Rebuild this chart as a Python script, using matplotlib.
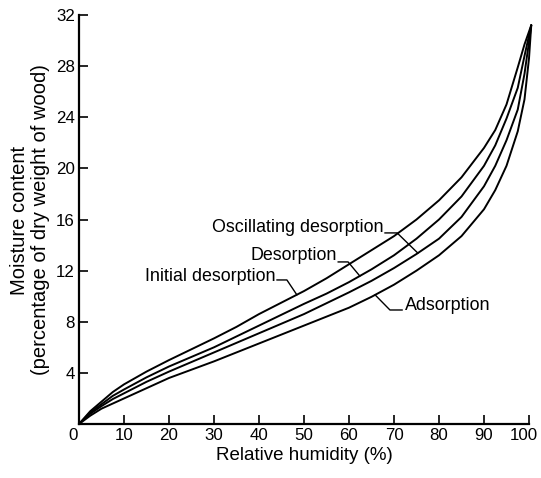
import numpy as np
import matplotlib
matplotlib.use("Agg")
import matplotlib.pyplot as plt
import matplotlib.transforms as mtransforms

plt.rcParams['font.family'] = ['Liberation Sans', 'DejaVu Sans']

# Relative humidity (%) at which the curves were read
rh = [0, 2.5, 5, 7.5, 10, 15, 20, 25, 30, 35, 40, 45, 50, 55, 60, 65, 70,
      75, 80, 85, 90, 92.5, 95, 97.5, 99, 100, 100.5]

# Moisture content (% of dry weight) for each curve
initial_desorption = [0, 1.0, 1.75, 2.5, 3.1, 4.1, 5.0, 5.85, 6.7, 7.6, 8.6, 9.5,
                      10.4, 11.4, 12.5, 13.6, 14.7, 16.0, 17.5, 19.3, 21.6, 23.0,
                      25.0, 27.9, 29.7, 30.7, 31.2]
desorption = [0, 0.9, 1.55, 2.2, 2.7, 3.65, 4.5, 5.25, 6.0, 6.85, 7.7, 8.55,
              9.4, 10.2, 11.1, 12.1, 13.2, 14.5, 16.0, 17.8, 20.2, 21.8,
              23.9, 26.3, 28.8, 30.4, 31.2]
oscillating_desorption = [0, 0.8, 1.4, 1.95, 2.4, 3.3, 4.1, 4.85, 5.6, 6.35, 7.1,
                          7.85, 8.6, 9.45, 10.3, 11.2, 12.2, 13.3, 14.5, 16.2,
                          18.6, 20.2, 22.2, 24.6, 27.4, 29.9, 31.2]
adsorption = [0, 0.65, 1.2, 1.6, 2.0, 2.8, 3.6, 4.25, 4.9, 5.6, 6.3, 7.0, 7.7,
              8.4, 9.1, 9.95, 10.9, 12.0, 13.2, 14.7, 16.8, 18.3, 20.2, 22.9,
              25.4, 28.6, 31.2]

x_ticks = [10, 20, 30, 40, 50, 60, 70, 80, 90, 100]
y_ticks = [4, 8, 12, 16, 20, 24, 28, 32]

W, H = 541, 478
fig = plt.figure(figsize=(W / 100, H / 100), dpi=100)
L, R, B, T = 79, 529, 424, 15
ax = fig.add_axes([L / W, (H - B) / H, (R - L) / W, (B - T) / H])

for ys in (initial_desorption, desorption, oscillating_desorption, adsorption):
    ax.plot(rh, ys, color='black', lw=1.4, clip_on=False,
            solid_joinstyle='round', solid_capstyle='round')

ax.set_xlim(0, 100)
ax.set_ylim(0, 32)
ax.spines['top'].set_visible(False)
ax.spines['right'].set_visible(False)
for s in ('left', 'bottom'):
    ax.spines[s].set_linewidth(1.6)
ax.set_xticks([0] + x_ticks)
ax.set_xticklabels(['0'] + [str(v) for v in x_ticks])
ax.set_yticks(y_ticks)
ax.set_yticklabels([str(v) for v in y_ticks])
ax.tick_params(direction='in', length=6.5, width=1.2, labelsize=12.2, pad=3)
ax.xaxis.get_major_ticks()[0].tick1line.set_visible(False)

# nudge the first and last x tick labels like the reference
xlabels = ax.get_xticklabels()
xlabels[0].set_transform(xlabels[0].get_transform() +
                         mtransforms.ScaledTranslation(-6 / 100, 0, fig.dpi_scale_trans))
xlabels[-1].set_transform(xlabels[-1].get_transform() +
                          mtransforms.ScaledTranslation(-5 / 100, 0, fig.dpi_scale_trans))

ax.set_xlabel('Relative humidity (%)', fontsize=13.5, va='top')
ax.xaxis.set_label_coords(0.5, -0.056)
fig.text(30 / W, 1 - 220 / H, 'Moisture content\n(percentage of dry weight of wood)',
         rotation=90, ha='center', va='center', multialignment='center',
         fontsize=14.5, linespacing=1.15)

# annotations with leader lines
def leader(label, series, x_end, pts, text_xy, ha):
    y_end = float(np.interp(x_end, rh, series))
    xs = [p[0] for p in pts] + [x_end]
    ys = [p[1] for p in pts] + [y_end]
    ax.plot(xs, ys, color='black', lw=1.0, clip_on=False)
    ax.text(text_xy[0], text_xy[1], label, ha=ha, va='center', fontsize=12.9)

leader('Initial desorption', initial_desorption, 48.4,
       [(44.0, 11.27), (46.2, 11.27)], (43.6, 11.55), 'right')
leader('Desorption', desorption, 62.4,
       [(57.6, 12.68), (59.8, 12.68)], (57.3, 13.2), 'right')
leader('Oscillating desorption', oscillating_desorption, 75.3,
       [(68.0, 14.95), (70.7, 14.95)], (67.6, 15.35), 'right')
leader('Adsorption', adsorption, 65.8,
       [(71.8, 8.92), (69.1, 8.92)], (72.4, 9.3), 'left')

fig.savefig('out.png', dpi=100)
